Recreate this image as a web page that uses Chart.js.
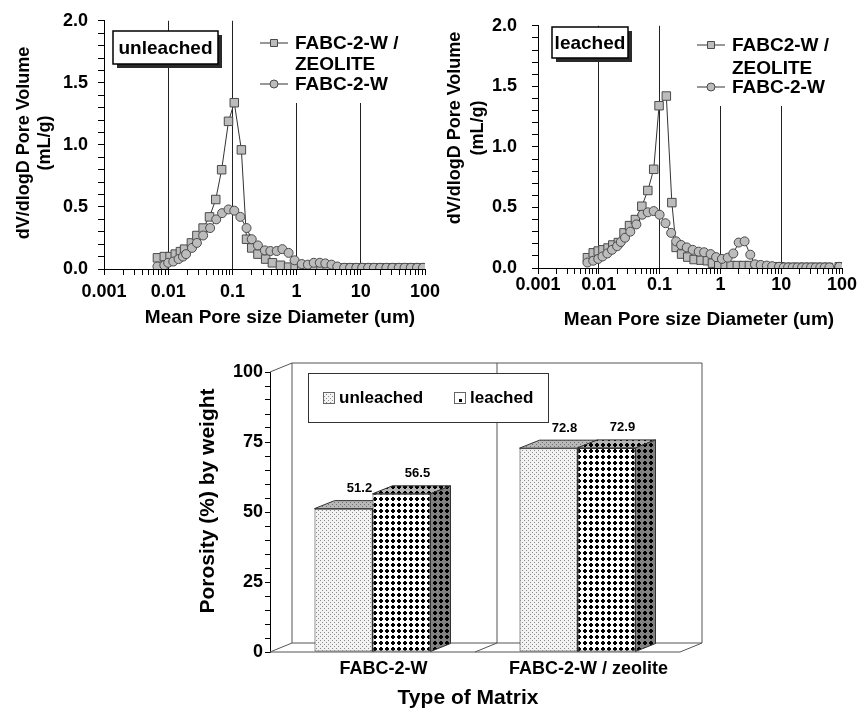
<!DOCTYPE html>
<html>
<head>
<meta charset="utf-8">
<script src="https://cdn.jsdelivr.net/npm/chart.js@4.4.1/dist/chart.umd.min.js"></script>
<style>
  body { margin: 0; background: #fff; }
  #page { position: relative; width: 858px; height: 710px; overflow: hidden; }
  canvas { position: absolute; }
</style>
</head>
<body>
<div id="page">
  <canvas id="unleachedChart" width="450" height="340" style="left:0;top:0"></canvas>
  <canvas id="leachedChart" width="418" height="340" style="left:440px;top:0"></canvas>
  <canvas id="porosityChart" width="540" height="370" style="left:180px;top:340px"></canvas>
</div>
<script>
// tick labels
const poreTicks = [0.001, 0.01, 0.1, 1, 10, 100];
const volumeTicks = [0, 0.5, 1, 1.5, 2];
const porosityTicks = [0, 25, 50, 75, 100];

// unleached: pore diameter (um) / dV/dlogD (mL/g)
const unleachedZeoliteD = [0.0068, 0.0087, 0.0107, 0.0129, 0.0155, 0.018, 0.023, 0.028, 0.035, 0.044, 0.055, 0.068, 0.087, 0.107, 0.138, 0.166, 0.20, 0.25, 0.33, 0.42, 0.56, 0.75, 0.95, 1.2, 1.5, 1.9, 2.4, 3.0, 3.8, 4.8, 6.0, 7.5, 9.5, 12, 15, 19, 24, 30, 38, 48, 60, 75, 93];
const unleachedZeoliteV = [0.09, 0.10, 0.10, 0.12, 0.14, 0.16, 0.21, 0.27, 0.33, 0.42, 0.56, 0.80, 1.19, 1.34, 0.96, 0.24, 0.17, 0.12, 0.08, 0.05, 0.03, 0.015, 0.01, 0.01, 0.01, 0.01, 0.01, 0.01, 0.01, 0.01, 0.01, 0.01, 0.01, 0.01, 0.01, 0.01, 0.01, 0.01, 0.01, 0.01, 0.01, 0.01, 0.01];
const unleachedPlainD = [0.0068, 0.0087, 0.010, 0.012, 0.0145, 0.017, 0.019, 0.0235, 0.028, 0.035, 0.045, 0.056, 0.069, 0.087, 0.107, 0.133, 0.166, 0.20, 0.25, 0.32, 0.39, 0.49, 0.60, 0.75, 0.93, 1.2, 1.5, 1.85, 2.3, 2.8, 3.5, 4.3, 5.5, 6.8, 8.5, 10.5, 13, 16, 20, 25, 31, 39, 48, 60, 75, 93];
const unleachedPlainV = [0.02, 0.03, 0.05, 0.06, 0.08, 0.10, 0.12, 0.17, 0.21, 0.27, 0.33, 0.40, 0.45, 0.48, 0.47, 0.42, 0.33, 0.24, 0.19, 0.15, 0.145, 0.145, 0.16, 0.13, 0.07, 0.04, 0.035, 0.05, 0.05, 0.045, 0.035, 0.02, 0.01, 0.01, 0.01, 0.01, 0.01, 0.01, 0.01, 0.01, 0.01, 0.01, 0.01, 0.01, 0.01, 0.01];

// leached
const leachedZeoliteD = [0.0065, 0.0081, 0.0098, 0.0117, 0.0142, 0.017, 0.021, 0.026, 0.032, 0.040, 0.051, 0.064, 0.080, 0.098, 0.129, 0.159, 0.187, 0.23, 0.29, 0.37, 0.48, 0.61, 0.74, 0.94, 1.2, 1.5, 1.9, 2.4, 3.0, 3.8, 4.8, 6.0, 7.5, 9.5, 12, 15, 19, 24, 30, 38, 48, 60, 90];
const leachedZeoliteV = [0.085, 0.125, 0.14, 0.15, 0.165, 0.19, 0.21, 0.29, 0.35, 0.40, 0.51, 0.64, 0.815, 1.34, 1.42, 0.54, 0.17, 0.115, 0.09, 0.07, 0.065, 0.06, 0.04, 0.02, 0.02, 0.02, 0.02, 0.02, 0.02, 0.02, 0.01, 0.01, 0.01, 0.01, 0.005, 0.005, 0.005, 0.005, 0.005, 0.005, 0.005, 0.005, 0.01];
const leachedPlainD = [0.0065, 0.0081, 0.0098, 0.0115, 0.0138, 0.0165, 0.020, 0.023, 0.027, 0.033, 0.0415, 0.052, 0.064, 0.080, 0.10, 0.125, 0.155, 0.187, 0.226, 0.28, 0.35, 0.44, 0.54, 0.69, 0.85, 1.06, 1.32, 1.63, 2.0, 2.5, 3.1, 3.7, 4.6, 5.8, 7.1, 9.2, 11, 13, 15.5, 18.5, 22, 26, 31, 37, 44, 52, 62, 90];
const leachedPlainV = [0.045, 0.06, 0.075, 0.095, 0.12, 0.15, 0.18, 0.215, 0.25, 0.30, 0.36, 0.44, 0.46, 0.47, 0.44, 0.37, 0.29, 0.22, 0.19, 0.17, 0.15, 0.135, 0.13, 0.115, 0.09, 0.075, 0.085, 0.12, 0.21, 0.22, 0.11, 0.03, 0.025, 0.02, 0.015, 0.01, 0.005, 0.005, 0.005, 0.005, 0.005, 0.005, 0.005, 0.005, 0.005, 0.005, 0.005, 0.01];

// porosity bars
const matrixTypes = ['FABC-2-W', 'FABC-2-W / zeolite'];
const unleachedPorosity = [51.2, 72.8];
const leachedPorosity = [56.5, 72.9];

const FONT = '"Liberation Sans", Arial, Helvetica, sans-serif';
Chart.defaults.font.family = FONT;
Chart.defaults.font.weight = 'bold';
Chart.defaults.color = '#000';

function listIndex(value, list) {
    return list.findIndex(t => Math.abs(t - value) <= Math.abs(t) * 1e-6 + 1e-9);
}

function drawMarker(ctx, style, x, y, r, ds) {
    ctx.fillStyle = ds.pointBackgroundColor;
    ctx.strokeStyle = ds.pointBorderColor;
    ctx.lineWidth = 1;
    ctx.beginPath();
    if (style === 'rect') ctx.rect(x - r, y - r, 2 * r, 2 * r);
    else ctx.arc(x, y, r, 0, Math.PI * 2);
    ctx.fill();
    ctx.stroke();
}

function rotatedText(ctx, text, x, y) {
    ctx.save();
    ctx.translate(x, y);
    ctx.rotate(-Math.PI / 2);
    ctx.fillText(text, 0, 0);
    ctx.restore();
}

// tag box, legend and axis titles of the pore size panels
const poreDecor = {
    id: 'poreDecor',
    beforeDatasetsDraw(chart, args, o) {
        const ctx = chart.ctx;
        ctx.save();
        ctx.fillStyle = '#fff';
        ctx.fillRect(o.cover.x, o.cover.y, o.cover.w, o.cover.h);

        const t = o.tag;
        ctx.fillStyle = '#2a2a2a';
        ctx.fillRect(t.x + 4, t.y + 4, t.w, t.h);
        ctx.fillStyle = '#fff';
        ctx.fillRect(t.x, t.y, t.w, t.h);
        ctx.strokeStyle = '#000';
        ctx.lineWidth = 1.5;
        ctx.strokeRect(t.x, t.y, t.w, t.h);
        ctx.fillStyle = '#000';
        ctx.font = 'bold 19px ' + FONT;
        ctx.textAlign = 'center';
        ctx.textBaseline = 'middle';
        ctx.fillText(t.text, t.x + t.w / 2, t.y + t.h / 2 + 1);

        ctx.textAlign = 'left';
        o.rows.forEach(row => {
            const ds = chart.data.datasets[row.dataset];
            ctx.strokeStyle = ds.borderColor;
            ctx.lineWidth = 1;
            ctx.beginPath();
            ctx.moveTo(o.lineX, row.y);
            ctx.lineTo(o.lineX + 28, row.y);
            ctx.stroke();
            drawMarker(ctx, ds.pointStyle, o.lineX + 14, row.y, ds.pointStyle === 'rect' ? 3.5 : 4, ds);
            ctx.fillStyle = '#000';
            row.lines.forEach((line, j) => ctx.fillText(line, o.textX, row.y + 1 + j * o.lineGap));
        });
        ctx.restore();
    },
    afterDraw(chart, args, o) {
        const ctx = chart.ctx;
        ctx.save();
        ctx.fillStyle = '#000';
        ctx.textAlign = 'center';
        ctx.textBaseline = 'middle';
        ctx.font = 'bold 19px ' + FONT;
        ctx.fillText(o.xTitle.text, o.xTitle.x, o.xTitle.y);
        ctx.font = 'bold 18px ' + FONT;
        o.yTitle.lines.forEach((line, i) => rotatedText(ctx, line, o.yTitle.x[i], o.yTitle.y));
        ctx.restore();
    }
};

function poreChart(canvasId, plainD, plainV, zeoliteD, zeoliteV, layout, decor) {
    const points = (d, v) => d.map((x, i) => ({ x: x, y: v[i] }));
    const common = {
        borderColor: '#333',
        borderWidth: 1,
        pointBackgroundColor: '#bcbcbc',
        pointBorderColor: '#4a4a4a',
        pointBorderWidth: 1,
        tension: 0,
        fill: false
    };
    return new Chart(document.getElementById(canvasId), {
        type: 'line',
        data: {
            datasets: [
                Object.assign({ label: 'FABC-2-W', data: points(plainD, plainV), pointStyle: 'circle', pointRadius: 4.5 }, common),
                Object.assign({ label: 'FABC-2-W / ZEOLITE', data: points(zeoliteD, zeoliteV), pointStyle: 'rect', pointRadius: 6 }, common)
            ]
        },
        options: {
            responsive: false,
            animation: false,
            layout: { padding: layout.padding },
            plugins: { legend: { display: false }, tooltip: { enabled: false }, poreDecor: decor },
            scales: {
                x: {
                    type: 'logarithmic',
                    min: 0.001,
                    max: 100,
                    afterFit: s => { s.height = layout.xHeight; },
                    afterBuildTicks: s => {
                        const ticks = [];
                        poreTicks.forEach((d, i) => {
                            if (i === poreTicks.length - 1) ticks.push({ value: d });
                            else for (let m = 1; m < 10; m++) ticks.push({ value: d * m });
                        });
                        s.ticks = ticks;
                    },
                    grid: {
                        color: c => {
                            const i = listIndex(c.tick.value, poreTicks);
                            return i > 0 && i < poreTicks.length - 1 ? '#222' : 'rgba(0,0,0,0)';
                        },
                        tickColor: '#000',
                        tickLength: 6
                    },
                    border: { color: '#000', width: 1 },
                    ticks: {
                        autoSkip: false,
                        maxRotation: 0,
                        padding: layout.xPad,
                        font: { size: 18, weight: 'bold' },
                        callback: v => {
                            const i = listIndex(v, poreTicks);
                            return i < 0 ? '' : String(poreTicks[i]);
                        }
                    }
                },
                y: {
                    min: 0,
                    max: 2,
                    afterFit: s => { s.width = layout.yWidth; },
                    grid: { drawOnChartArea: false, tickColor: '#000', tickLength: 6 },
                    border: { color: '#000', width: 1 },
                    ticks: {
                        stepSize: 0.1,
                        maxTicksLimit: 100,
                        autoSkip: false,
                        padding: layout.yPad,
                        font: { size: 18, weight: 'bold' },
                        callback: v => listIndex(v, volumeTicks) < 0 ? '' : v.toFixed(1)
                    }
                }
            }
        },
        plugins: [poreDecor]
    });
}

poreChart('unleachedChart', unleachedPlainD, unleachedPlainV, unleachedZeoliteD, unleachedZeoliteV,
    { padding: { left: 0, top: 20, right: 25, bottom: 0 }, xHeight: 71, yWidth: 104, xPad: 6, yPad: 10 },
    {
        cover: { x: 258, y: 18, w: 167, h: 85 },
        tag: { x: 113, y: 31, w: 105, h: 33, text: 'unleached' },
        lineX: 260, textX: 295, lineGap: 21,
        rows: [
            { dataset: 1, y: 43, lines: ['FABC-2-W /', 'ZEOLITE'] },
            { dataset: 0, y: 84, lines: ['FABC-2-W'] }
        ],
        xTitle: { text: 'Mean Pore size Diameter (um)', x: 280, y: 318 },
        yTitle: { lines: ['dV/dlogD Pore Volume', '(mL/g)'], x: [24, 45], y: 143 }
    });

poreChart('leachedChart', leachedPlainD, leachedPlainV, leachedZeoliteD, leachedZeoliteV,
    { padding: { left: 0, top: 17, right: 16, bottom: 0 }, xHeight: 72, yWidth: 98, xPad: 0, yPad: 15 },
    {
        cover: { x: 255, y: 15, w: 147, h: 91 },
        tag: { x: 112, y: 27, w: 76, h: 31, text: 'leached' },
        lineX: 257, textX: 292, lineGap: 23,
        rows: [
            { dataset: 1, y: 45, lines: ['FABC2-W /', 'ZEOLITE'] },
            { dataset: 0, y: 87, lines: ['FABC-2-W'] }
        ],
        xTitle: { text: 'Mean Pore size Diameter (um)', x: 259, y: 320 },
        yTitle: { lines: ['dV/dlogD Pore Volume', '(mL/g)'], x: [15, 38], y: 128 }
    });

// fill patterns for the bars
function tilePattern(size, bg, drawDots) {
    const c = document.createElement('canvas');
    c.width = c.height = size;
    const g = c.getContext('2d');
    g.fillStyle = bg;
    g.fillRect(0, 0, size, size);
    drawDots(g);
    return g.createPattern(c, 'repeat');
}
const stipple = color => g => { g.fillStyle = color; g.fillRect(0, 0, 1, 1); g.fillRect(2, 2, 1, 1); };
const blackDot = g => { g.fillStyle = '#000'; g.fillRect(2, 1, 2, 4); g.fillRect(1, 2, 4, 2); };

const unleachedFront = tilePattern(4, '#f3f3f3', stipple('#8a8a8a'));
const unleachedTop = tilePattern(4, '#b9b9b9', stipple('#6f6f6f'));
const leachedFront = tilePattern(6, '#fff', blackDot);
const leachedTop = tilePattern(6, '#b5b5b5', blackDot);
const leachedSide = tilePattern(6, '#808080', blackDot);

function poly(ctx, pts) {
    ctx.beginPath();
    pts.forEach((p, i) => i ? ctx.lineTo(p[0], p[1]) : ctx.moveTo(p[0], p[1]));
    ctx.closePath();
    ctx.fill();
    ctx.stroke();
}

// back wall, floor and the 3d faces of the bars
const box3d = {
    id: 'box3d',
    beforeDatasetsDraw(chart, args, o) {
        const { ctx, chartArea: a } = chart;
        const xs = chart.scales.x;
        ctx.save();
        ctx.strokeStyle = '#555';
        ctx.lineWidth = 1;
        const edges = [a.left];
        for (let i = 1; i < matrixTypes.length; i++) {
            edges.push((xs.getPixelForValue(i - 1) + xs.getPixelForValue(i)) / 2);
        }
        edges.push(a.right);
        ctx.beginPath();
        ctx.moveTo(a.left + o.wallDx, a.bottom - o.wallDy);
        ctx.lineTo(a.right + o.wallDx, a.bottom - o.wallDy);
        ctx.moveTo(a.left + o.wallDx, a.top - o.wallDy);
        ctx.lineTo(a.right + o.wallDx, a.top - o.wallDy);
        ctx.moveTo(a.left, a.top);
        ctx.lineTo(a.left + o.wallDx, a.top - o.wallDy);
        ctx.moveTo(a.left, a.bottom);
        ctx.lineTo(a.right, a.bottom);
        edges.forEach(x => {
            ctx.moveTo(x + o.wallDx, a.top - o.wallDy);
            ctx.lineTo(x + o.wallDx, a.bottom - o.wallDy);
            ctx.moveTo(x, a.bottom);
            ctx.lineTo(x + o.wallDx, a.bottom - o.wallDy);
        });
        ctx.stroke();

        ctx.strokeStyle = '#333';
        chart.data.datasets.forEach((ds, i) => {
            chart.getDatasetMeta(i).data.forEach(bar => {
                const { x, y, base, width } = bar.getProps(['x', 'y', 'base', 'width'], true);
                const l = x - width / 2, r = x + width / 2;
                ctx.fillStyle = ds.topFill;
                poly(ctx, [[l, y], [l + o.dx, y - o.dy], [r + o.dx, y - o.dy], [r, y]]);
                ctx.fillStyle = ds.sideFill;
                poly(ctx, [[r, y], [r + o.dx, y - o.dy], [r + o.dx, base - o.dy], [r, base]]);
            });
        });
        ctx.restore();
    },
    afterDatasetsDraw(chart, args, o) {
        const ctx = chart.ctx;
        ctx.save();
        ctx.fillStyle = '#000';
        ctx.textAlign = 'center';
        ctx.textBaseline = 'middle';
        ctx.font = 'bold 13px ' + FONT;
        chart.data.datasets.forEach((ds, i) => {
            chart.getDatasetMeta(i).data.forEach((bar, j) => {
                ctx.fillText(ds.data[j].toFixed(1), bar.x + 16, bar.y - 20);
            });
        });

        const lg = o.legend;
        ctx.fillStyle = '#fff';
        ctx.fillRect(lg.x, lg.y, lg.w, lg.h);
        ctx.strokeStyle = '#333';
        ctx.strokeRect(lg.x + 0.5, lg.y + 0.5, lg.w, lg.h);
        ctx.font = 'bold 17px ' + FONT;
        ctx.textAlign = 'left';
        chart.data.datasets.forEach((ds, i) => {
            const sx = lg.items[i];
            ctx.fillStyle = ds.swatch;
            ctx.fillRect(sx, lg.y + 19, 11, 11);
            ctx.strokeStyle = '#666';
            ctx.strokeRect(sx + 0.5, lg.y + 19.5, 11, 11);
            ctx.fillStyle = '#000';
            ctx.fillText(ds.label, sx + 16, lg.y + 25);
        });
        ctx.restore();
    },
    afterDraw(chart, args, o) {
        const ctx = chart.ctx;
        ctx.save();
        ctx.fillStyle = '#000';
        ctx.textAlign = 'center';
        ctx.textBaseline = 'middle';
        ctx.font = 'bold 21px ' + FONT;
        ctx.fillText(o.xTitle.text, o.xTitle.x, o.xTitle.y);
        rotatedText(ctx, o.yTitle.text, o.yTitle.x, o.yTitle.y);
        ctx.restore();
    }
};

const swatchLeached = tilePattern(11, '#fff', g => { g.fillStyle = '#000'; g.fillRect(4, 4, 3, 3); });

new Chart(document.getElementById('porosityChart'), {
    type: 'bar',
    data: {
        labels: matrixTypes,
        datasets: [{
            label: 'unleached',
            data: unleachedPorosity,
            backgroundColor: unleachedFront,
            topFill: unleachedTop,
            sideFill: unleachedTop,
            swatch: unleachedFront,
            borderColor: '#333',
            borderWidth: 1,
            borderSkipped: false
        }, {
            label: 'leached',
            data: leachedPorosity,
            backgroundColor: leachedFront,
            topFill: leachedTop,
            sideFill: leachedSide,
            swatch: swatchLeached,
            borderColor: '#333',
            borderWidth: 1,
            borderSkipped: false
        }]
    },
    options: {
        responsive: false,
        animation: false,
        layout: { padding: { left: 0, top: 32, right: 40, bottom: 0 } },
        datasets: { bar: { categoryPercentage: 0.566, barPercentage: 1 } },
        plugins: {
            legend: { display: false },
            tooltip: { enabled: false },
            box3d: {
                wallDx: 22, wallDy: 9, dx: 20, dy: 8,
                legend: { x: 128, y: 33, w: 240, h: 49, items: [143, 274] },
                xTitle: { text: 'Type of Matrix', x: 288, y: 358 },
                yTitle: { text: 'Porosity (%) by weight', x: 28, y: 161 }
            }
        },
        scales: {
            x: {
                afterFit: s => { s.height = 58; },
                grid: { display: false, drawTicks: false },
                border: { display: false },
                ticks: { padding: 6, labelOffset: 11, maxRotation: 0, font: { size: 18, weight: 'bold' } }
            },
            y: {
                min: 0,
                max: 100,
                afterFit: s => { s.width = 90; },
                grid: { drawOnChartArea: false, tickColor: '#000', tickLength: 5 },
                border: { color: '#000', width: 1 },
                ticks: {
                    stepSize: 5,
                    maxTicksLimit: 100,
                    autoSkip: false,
                    padding: 2,
                    font: { size: 18, weight: 'bold' },
                    callback: v => listIndex(v, porosityTicks) < 0 ? '' : String(v)
                }
            }
        }
    },
    plugins: [box3d]
});
</script>
</body>
</html>
